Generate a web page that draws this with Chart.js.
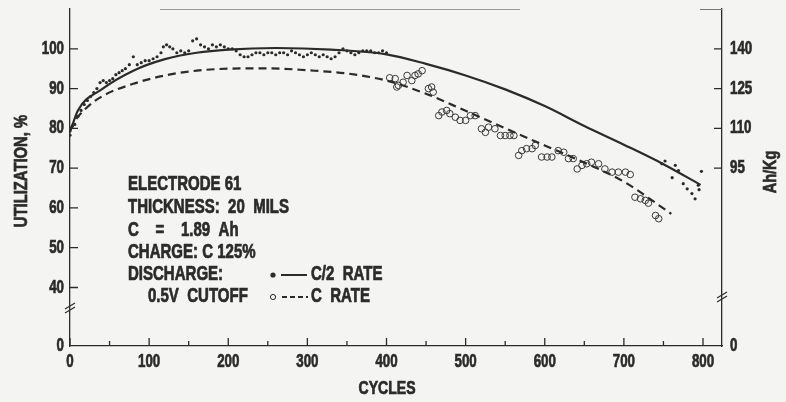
<!DOCTYPE html>
<html>
<head>
<meta charset="utf-8">
<script src="https://cdn.jsdelivr.net/npm/chart.js@4.4.1/dist/chart.umd.min.js"></script>
<style>
  html, body { margin: 0; padding: 0; background: #f4f4f2; }
  #wrap { width: 786px; height: 402px; }
</style>
</head>
<body>
<div id="wrap"><canvas id="utilChart" width="786" height="402"></canvas></div>
<script>
// fitted curves
const halfRateCycles = [0, 10, 40, 80, 120, 160, 200, 260, 330, 400, 450, 500, 550, 600, 650, 700, 750, 797];
const halfRateUtil   = [79, 84.5, 89.8, 94.5, 97.4, 99, 99.8, 100.2, 99.8, 98.6, 96.2, 93.3, 89.8, 85.6, 80.6, 75.9, 71, 65.8];

const fullRateCycles = [0, 5, 20, 40, 80, 120, 160, 200, 250, 300, 350, 400, 450, 500, 550, 600, 650, 700, 760];
const fullRateUtil   = [79.5, 81.5, 85, 88, 91.2, 93.3, 94.5, 95, 95.1, 94.6, 93.8, 92, 88.7, 84.4, 80, 75.7, 71.4, 66.6, 58.5];

// measured points, C/2 rate (filled dots)
const halfDotCycles = [0, 3, 6, 10, 14, 18, 22, 26, 30, 34, 38, 42, 46, 50, 54, 58, 62, 66, 70, 75,
  80, 85, 90, 95, 100, 105, 110, 115, 118, 122, 126, 130, 135, 140, 145, 150, 155, 160, 165, 170,
  175, 180, 185, 190, 195, 200, 205, 210, 215, 220, 225, 230, 235, 240, 245, 250, 255, 260, 265, 270,
  275, 280, 285, 290, 295, 300, 305, 310, 315, 320, 325, 330, 335, 340, 345, 350, 355, 360, 365, 370,
  375, 380, 385, 390, 395, 400,
  748, 752, 761, 765, 769, 775, 780, 786, 790, 794, 795, 798];
const halfDotUtil = [78.3, 80.5, 81, 83, 84.5, 86, 87, 88, 89, 90, 91.5, 92, 91.5, 92, 92.5, 93.5, 94, 94.5, 95, 96,
  98, 96, 96.5, 97, 97, 97.5, 98, 99, 100.5, 101, 100.5, 100, 99, 99.5, 99, 99.5, 102, 102.5, 101, 100.5,
  100, 101, 100.5, 101, 100.5, 100, 100, 99.5, 98.5, 98, 98, 98.5, 99, 99, 98.5, 99, 99, 98.5, 99, 99,
  98.5, 99.5, 99, 98.5, 98, 98.5, 99, 98.5, 98, 98.5, 98, 97.5, 98, 99, 100, 99.5, 99, 98.5, 99, 99.5,
  99.5, 99.5, 99, 99, 99.5, 99,
  71.1, 71.8, 67.6, 70.7, 69.4, 66.1, 64.8, 63.6, 62.3, 65.7, 64.6, 69.2];

// measured points, C rate (open circles)
const fullDotCycles = [404, 411, 413, 415, 421, 426, 432, 436, 440, 445, 453, 457, 459, 466, 470, 476, 480, 487, 493, 500,
  506, 512, 520, 525, 529, 537, 544, 550, 556, 561, 567, 571, 577, 584, 588, 596, 603, 609, 617, 624,
  630, 636, 641, 647, 653, 659, 668, 676, 685, 693, 702, 708, 714, 721, 727, 731, 740, 744];
const fullDotUtil = [92.7, 92.5, 90.4, 90.8, 91.6, 93.3, 92, 93.3, 93.7, 94.5, 90, 90.4, 89.1, 83.2, 84.1, 84.5, 83.7, 82.8, 82, 82,
  83.2, 83.2, 79.9, 79, 80.3, 79.9, 78.2, 78.2, 78.2, 78.2, 73.2, 74.4, 74.9, 74.9, 75.7, 72.8, 72.8, 72.8, 74.4, 74,
  72.4, 72.4, 69.8, 70.7, 71.1, 71.5, 71.1, 69.8, 69, 69, 69, 68.4, 62.7, 62.3, 61.9, 61.2, 58.1, 57.3];

const xTicks = [0, 50, 100, 150, 200, 250, 300, 350, 400, 450, 500, 550, 600, 650, 700, 750, 800];
const xLabels = [0, 100, 200, 300, 400, 500, 600, 700, 800];
const utilTicks = [40, 50, 60, 70, 80, 90, 100];
const ahkgTicks = [95, 110, 125, 140];

const ink = '#2b2b2b';
const face = "'Liberation Sans', Arial, sans-serif";

// broken axis: bottom of the plot stands for 0
const utilMin = 25.3, utilMax = 110;
const toAhkg = u => 1.5 * u - 10;

const pairs = (xs, ys) => xs.map((x, i) => ({ x: x, y: ys[i] }));

// condensed, heavy look: squeeze a bold sans horizontally and thicken it a bit
function narrow(ctx, text, x, y, align, squeeze) {
  ctx.save();
  ctx.translate(x, y);
  ctx.scale(squeeze, 1);
  ctx.textAlign = align;
  ctx.lineWidth = 0.7;
  ctx.strokeStyle = ctx.fillStyle;
  ctx.setLineDash([]);
  ctx.fillText(text, 0, 0);
  ctx.strokeText(text, 0, 0);
  ctx.restore();
}

const decorations = {
  id: 'decorations',
  beforeDraw(chart) {
    const ctx = chart.ctx;
    ctx.save();
    ctx.fillStyle = '#f4f4f2';
    ctx.fillRect(0, 0, chart.width, chart.height);
    ctx.restore();
  },
  afterDraw(chart) {
    const ctx = chart.ctx;
    const a = chart.chartArea;
    const xs = chart.scales.x, yl = chart.scales.y, yr = chart.scales.y2;
    ctx.save();
    ctx.strokeStyle = ink;
    ctx.lineWidth = 1.3;
    // inward ticks
    ctx.beginPath();
    xTicks.forEach(v => {
      const px = xs.getPixelForValue(v);
      const len = v % 100 === 0 ? 8 : 5;
      ctx.moveTo(px, a.bottom); ctx.lineTo(px, a.bottom - len);
    });
    utilTicks.forEach(v => {
      const py = yl.getPixelForValue(v);
      ctx.moveTo(a.left, py); ctx.lineTo(a.left + 8, py);
    });
    ahkgTicks.forEach(v => {
      const py = yr.getPixelForValue(v);
      ctx.moveTo(a.right, py); ctx.lineTo(a.right - 8, py);
    });
    ctx.stroke();

    // faint top frame pieces
    ctx.strokeStyle = '#9a9a9a';
    ctx.lineWidth = 1;
    ctx.beginPath();
    ctx.moveTo(160, a.top + 0.5); ctx.lineTo(520, a.top + 0.5);
    ctx.stroke();
    ctx.strokeStyle = '#777';
    ctx.beginPath();
    ctx.moveTo(700, a.top + 0.5); ctx.lineTo(a.right, a.top + 0.5);
    ctx.stroke();

    // axis breaks
    ctx.strokeStyle = ink;
    ctx.lineWidth = 1.2;
    const brk = (cx, cy) => {
      ctx.beginPath();
      ctx.moveTo(cx - 5, cy + 1); ctx.lineTo(cx + 5, cy - 5);
      ctx.moveTo(cx - 5, cy + 5); ctx.lineTo(cx + 5, cy - 1);
      ctx.stroke();
    };
    brk(a.left, 308);
    brk(a.right, 297);

    // tick labels, placed from the scales
    ctx.fillStyle = ink;
    ctx.textBaseline = 'middle';
    ctx.font = 'bold 18.5px ' + face;
    xLabels.forEach(v => narrow(ctx, String(v), xs.getPixelForValue(v), 362, 'center', 0.72));
    yl.ticks.forEach(t => narrow(ctx, t.value < 30 ? '0' : String(t.value), 64, yl.getPixelForValue(t.value), 'right', 0.72));
    yr.ticks.forEach(t => narrow(ctx, t.value < 40 ? '0' : String(t.value), 730, yr.getPixelForValue(t.value), 'left', 0.72));

    // titles
    ctx.font = 'bold 18.5px ' + face;
    narrow(ctx, 'CYCLES', 387, 389, 'center', 0.76);
    ctx.save();
    ctx.translate(22, 171);
    ctx.rotate(-Math.PI / 2);
    narrow(ctx, 'UTILIZATION, %', 0, 0, 'center', 0.8);
    ctx.restore();
    ctx.save();
    ctx.translate(771, 172);
    ctx.rotate(-Math.PI / 2);
    narrow(ctx, 'Ah/Kg', 0, 0, 'center', 0.78);
    ctx.restore();

    // info block
    ctx.font = 'bold 19.5px ' + face;
    const sq = 0.77;
    narrow(ctx, 'ELECTRODE 61', 128, 185, 'left', sq);
    narrow(ctx, 'THICKNESS:  20  MILS', 128, 208, 'left', sq);
    narrow(ctx, 'C    =    1.89  Ah', 128, 231, 'left', sq);
    narrow(ctx, 'CHARGE: C 125%', 128, 253, 'left', sq);
    narrow(ctx, 'DISCHARGE:', 128, 275, 'left', sq);
    narrow(ctx, '0.5V  CUTOFF', 148, 297, 'left', sq);

    // legend
    narrow(ctx, 'C/2  RATE', 311, 275, 'left', sq);
    narrow(ctx, 'C  RATE', 311, 297, 'left', sq);
    ctx.beginPath();
    ctx.arc(273, 275, 2.6, 0, Math.PI * 2);
    ctx.fill();
    ctx.lineWidth = 1;
    ctx.beginPath();
    ctx.arc(273, 297, 2.6, 0, Math.PI * 2);
    ctx.stroke();
    ctx.lineWidth = 2;
    ctx.beginPath();
    ctx.moveTo(281, 275); ctx.lineTo(307, 275);
    ctx.stroke();
    ctx.setLineDash([5, 3]);
    ctx.beginPath();
    ctx.moveTo(282, 297); ctx.lineTo(308, 297);
    ctx.stroke();
    ctx.restore();
  }
};

const canvas = document.getElementById('utilChart');
new Chart(canvas.getContext('2d'), {
  type: 'line',
  data: {
    datasets: [
      {
        label: 'C/2 RATE',
        data: pairs(halfRateCycles, halfRateUtil),
        borderColor: ink,
        borderWidth: 2.2,
        pointRadius: 0,
        cubicInterpolationMode: 'monotone',
        fill: false
      },
      {
        label: 'C RATE',
        data: pairs(fullRateCycles, fullRateUtil),
        borderColor: ink,
        borderWidth: 2.2,
        borderDash: [8, 5],
        pointRadius: 0,
        cubicInterpolationMode: 'monotone',
        fill: false
      },
      {
        type: 'scatter',
        label: 'C/2 points',
        data: pairs(halfDotCycles, halfDotUtil),
        pointRadius: 1.6,
        pointBackgroundColor: ink,
        pointBorderWidth: 0,
        showLine: false
      },
      {
        type: 'scatter',
        label: 'C points',
        data: pairs(fullDotCycles, fullDotUtil),
        pointRadius: 3.3,
        pointBackgroundColor: 'rgba(0,0,0,0)',
        pointBorderColor: '#3a3a3a',
        pointBorderWidth: 1,
        showLine: false
      }
    ]
  },
  options: {
    responsive: false,
    animation: false,
    events: [],
    layout: { padding: { top: 9, left: 0, right: 0, bottom: 0 } },
    plugins: { legend: { display: false }, tooltip: { enabled: false } },
    scales: {
      x: {
        type: 'linear',
        min: 0,
        max: 824,
        afterBuildTicks: s => { s.ticks = xLabels.map(v => ({ value: v })); },
        afterFit: s => { s.height = 56; },
        grid: { display: false },
        border: { display: true, color: ink, width: 1.3 },
        ticks: { display: false }
      },
      y: {
        type: 'linear',
        position: 'left',
        min: utilMin,
        max: utilMax,
        afterBuildTicks: s => { s.ticks = [utilMin].concat(utilTicks).map(v => ({ value: v })); },
        afterFit: s => { s.width = 70; },
        grid: { display: false },
        border: { display: true, color: ink, width: 1.3 },
        ticks: { display: false }
      },
      y2: {
        type: 'linear',
        position: 'right',
        min: toAhkg(utilMin),
        max: toAhkg(utilMax),
        afterBuildTicks: s => { s.ticks = [toAhkg(utilMin)].concat(ahkgTicks).map(v => ({ value: v })); },
        afterFit: s => { s.width = 64; },
        grid: { display: false },
        border: { display: true, color: ink, width: 1.3 },
        ticks: { display: false }
      }
    }
  },
  plugins: [decorations]
});
</script>
</body>
</html>
